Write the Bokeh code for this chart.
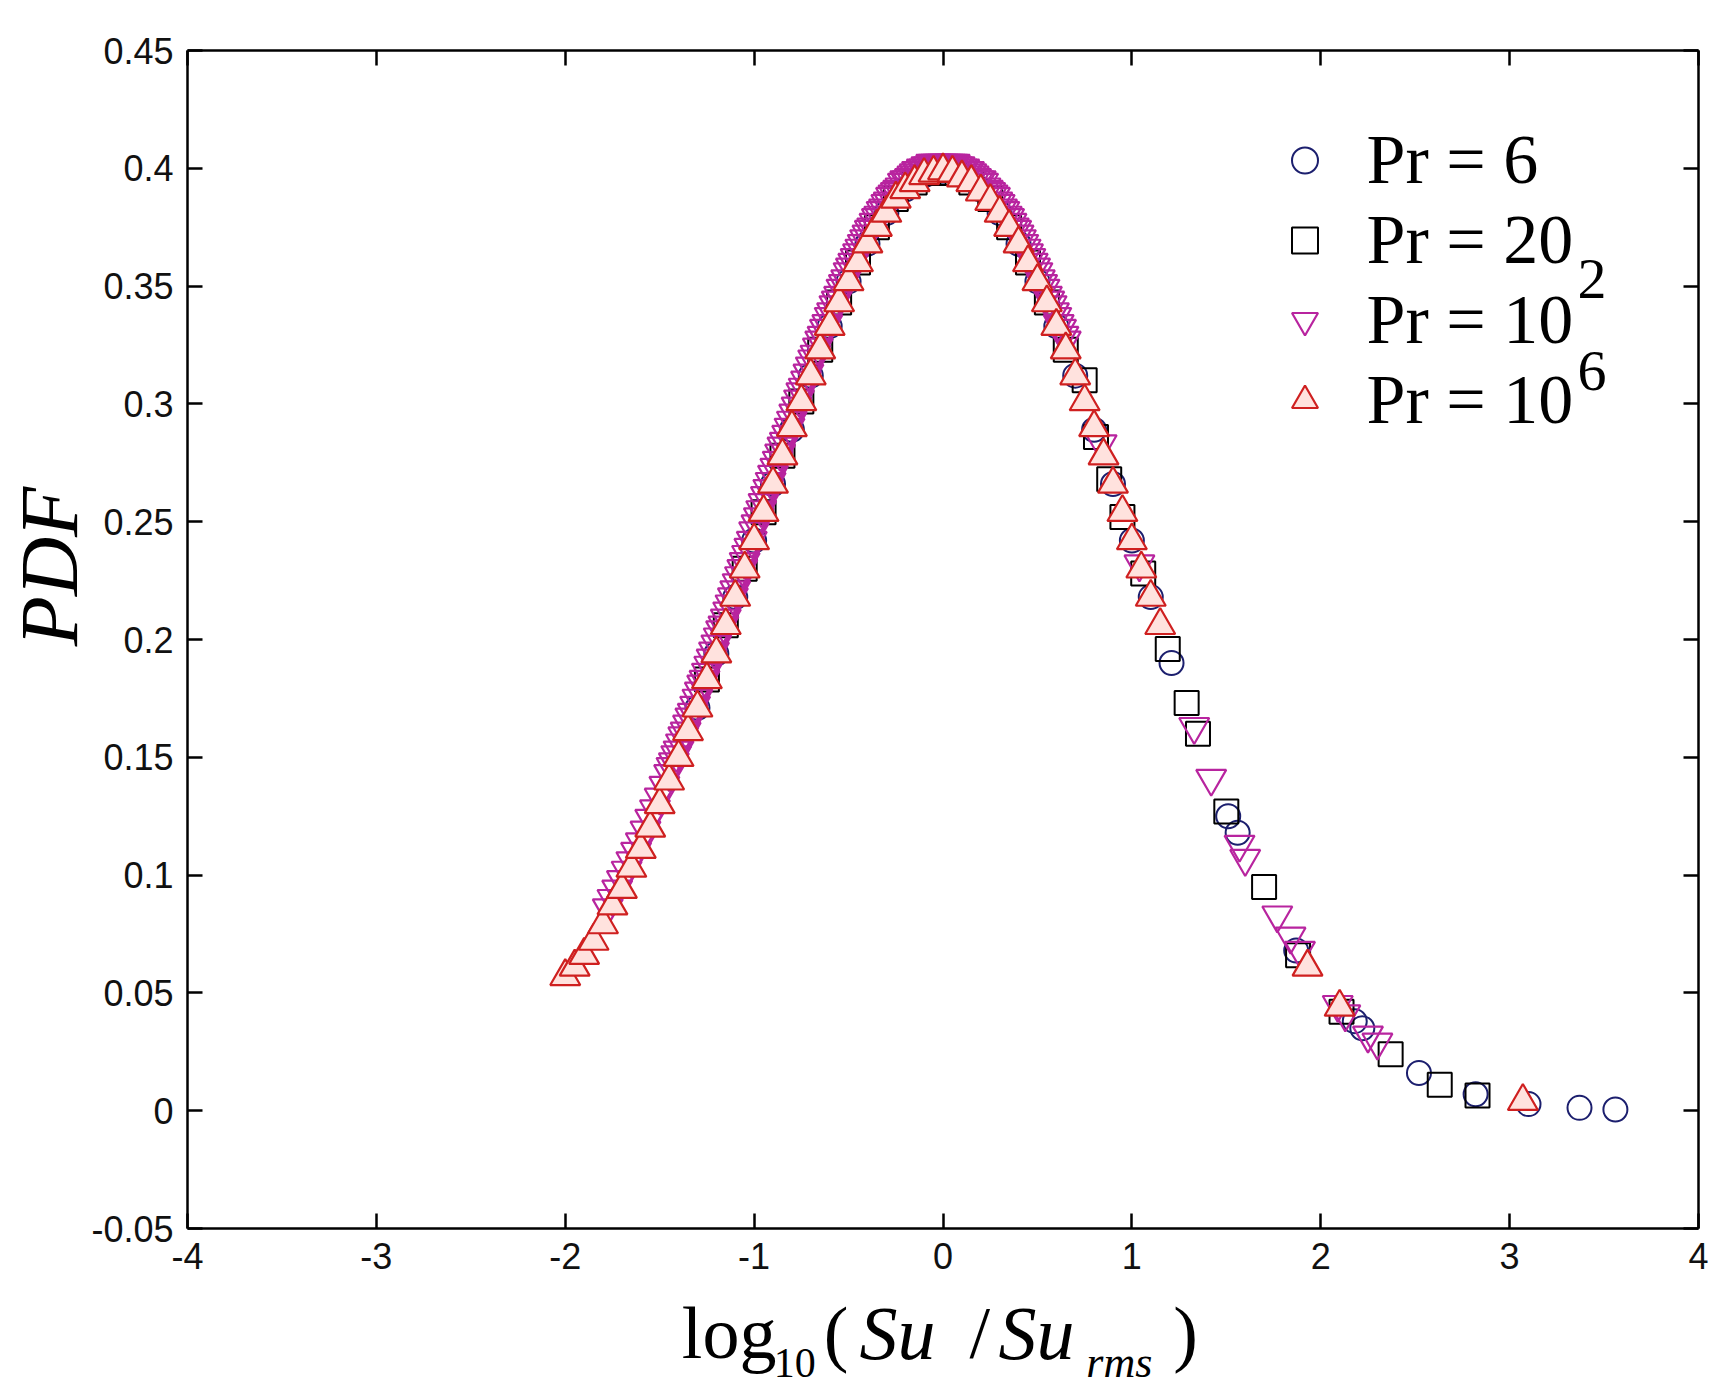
from bokeh.plotting import figure
from bokeh.layouts import row, column
from bokeh.models import (Range1d, FixedTicker, LinearAxis, Label, Legend, LegendItem,
                          CustomJSTickFormatter)
from bokeh.core.properties import value
from bokeh.embed import file_html
from bokeh.resources import INLINE
import math

# ---------------- data ----------------
pr6_x = [-1.3, -1.2, -1.1, -1.0, -0.9, -0.8, -0.7, -0.6, -0.5, -0.4, -0.3, -0.2, -0.1, 0.0,
         0.1, 0.2, 0.3, 0.4, 0.5, 0.6, 0.7, 0.8, 0.9, 1.0, 1.1, 1.21, 1.51, 1.56, 1.87, 2.18,
         2.22, 2.52, 2.82, 3.10, 3.37, 3.56]
pr6_y = [0.171, 0.194, 0.218, 0.242, 0.266, 0.289, 0.312, 0.333, 0.352, 0.368, 0.381, 0.391,
         0.397, 0.399, 0.397, 0.391, 0.381, 0.368, 0.352, 0.333, 0.312, 0.289, 0.266, 0.242,
         0.218, 0.190, 0.125, 0.118, 0.068, 0.038, 0.035, 0.016, 0.007, 0.0028, 0.0012, 0.0005]

pr20_x = [-1.25, -1.15, -1.05, -0.95, -0.85, -0.75, -0.65, -0.55, -0.45, -0.35, -0.25, -0.15,
          -0.05, 0.05, 0.15, 0.25, 0.35, 0.45, 0.55, 0.65, 0.75, 0.81, 0.88, 0.95, 1.06, 1.19,
          1.29, 1.35, 1.50, 1.70, 1.88, 2.11, 2.37, 2.63, 2.83]
pr20_y = [0.183, 0.206, 0.230, 0.254, 0.278, 0.301, 0.323, 0.343, 0.360, 0.375, 0.387, 0.394,
          0.398, 0.398, 0.394, 0.387, 0.375, 0.360, 0.343, 0.323, 0.310, 0.286, 0.268, 0.252,
          0.228, 0.196, 0.173, 0.160, 0.127, 0.095, 0.066, 0.042, 0.024, 0.011, 0.0065]

pr1e2_x = [-1.775, -1.75, -1.725, -1.7, -1.675, -1.65, -1.625, -1.6, -1.575, -1.55, -1.525, -1.5, -1.475,
           -1.45, -1.4375, -1.425, -1.4125, -1.4, -1.3875, -1.375, -1.3625,
           -1.35, -1.3375, -1.325, -1.3125, -1.3, -1.2875, -1.275, -1.2625,
           -1.25, -1.2375, -1.225, -1.2125, -1.2, -1.1875, -1.175, -1.1625,
           -1.15, -1.1375, -1.125, -1.1125, -1.1, -1.0875, -1.075, -1.0625,
           -1.05, -1.0375, -1.025, -1.0125, -1.0, -0.9875, -0.975, -0.9625,
           -0.95, -0.9375, -0.925, -0.9125, -0.9, -0.8875, -0.875, -0.8625,
           -0.85, -0.8375, -0.825, -0.8125, -0.8, -0.7875, -0.775, -0.7625,
           -0.75, -0.7375, -0.725, -0.7125, -0.7, -0.6875, -0.675, -0.6625,
           -0.65, -0.6375, -0.625, -0.6125, -0.6, -0.5875, -0.575, -0.5625,
           -0.55, -0.5375, -0.525, -0.5125, -0.5, -0.4875, -0.475, -0.4625,
           -0.45, -0.4375, -0.425, -0.4125, -0.4, -0.3875, -0.375, -0.3625,
           -0.35, -0.3375, -0.325, -0.3125, -0.3, -0.2875, -0.275, -0.2625,
           -0.25, -0.2375, -0.225, -0.2125, -0.2, -0.1875, -0.175, -0.1625,
           -0.15, -0.1375, -0.125, -0.1125, -0.1, -0.0875, -0.075, -0.0625,
           -0.05, -0.0375, -0.025, -0.0125, 0.0, 0.0125, 0.025, 0.0375,
           0.05, 0.0625, 0.075, 0.0875, 0.1, 0.1125, 0.125, 0.1375,
           0.15, 0.1625, 0.175, 0.1875, 0.2, 0.2125, 0.225, 0.2375,
           0.25, 0.2625, 0.275, 0.2875, 0.3, 0.3125, 0.325, 0.3375,
           0.35, 0.3625, 0.375, 0.3875, 0.4, 0.4125, 0.425, 0.4375,
           0.45, 0.4625, 0.475, 0.4875, 0.5, 0.5125, 0.525, 0.5375,
           0.55, 0.5625, 0.575, 0.5875, 0.6, 0.6125, 0.625, 0.6375,
           0.65,
           0.84, 1.04, 1.33, 1.42, 1.57, 1.60, 1.77, 1.84, 1.89, 2.09, 2.13, 2.25, 2.30]
pr1e2_y = [0.086, 0.090, 0.094, 0.098, 0.102, 0.106, 0.110, 0.114, 0.119, 0.124, 0.128, 0.133, 0.138,
           0.143, 0.146, 0.148, 0.151, 0.153, 0.156, 0.159, 0.161,
           0.164, 0.167, 0.169, 0.172, 0.175, 0.178, 0.181, 0.183,
           0.186, 0.189, 0.192, 0.195, 0.198, 0.201, 0.204, 0.206,
           0.209, 0.212, 0.215, 0.218, 0.221, 0.224, 0.227, 0.230,
           0.233, 0.236, 0.239, 0.242, 0.246, 0.249, 0.252, 0.255,
           0.258, 0.261, 0.264, 0.267, 0.270, 0.273, 0.276, 0.279,
           0.282, 0.284, 0.287, 0.290, 0.293, 0.296, 0.299, 0.302,
           0.305, 0.307, 0.310, 0.313, 0.316, 0.319, 0.321, 0.324,
           0.327, 0.329, 0.332, 0.334, 0.337, 0.339, 0.342, 0.344,
           0.346, 0.349, 0.351, 0.353, 0.356, 0.358, 0.360, 0.362,
           0.364, 0.366, 0.368, 0.370, 0.372, 0.374, 0.375, 0.377,
           0.379, 0.380, 0.382, 0.383, 0.385, 0.386, 0.388, 0.389,
           0.390, 0.391, 0.392, 0.394, 0.395, 0.395, 0.396, 0.397,
           0.398, 0.399, 0.399, 0.400, 0.400, 0.401, 0.401, 0.402,
           0.402, 0.402, 0.402, 0.402, 0.402, 0.402, 0.402, 0.402,
           0.402, 0.402, 0.401, 0.401, 0.400, 0.400, 0.399, 0.399,
           0.398, 0.397, 0.396, 0.395, 0.395, 0.394, 0.392, 0.391,
           0.390, 0.389, 0.388, 0.386, 0.385, 0.383, 0.382, 0.380,
           0.379, 0.377, 0.375, 0.374, 0.372, 0.370, 0.368, 0.366,
           0.364, 0.362, 0.360, 0.358, 0.356, 0.353, 0.351, 0.349,
           0.346, 0.344, 0.342, 0.339, 0.337, 0.334, 0.332, 0.329,
           0.327,
           0.283, 0.232, 0.163, 0.141, 0.113, 0.107, 0.083, 0.074, 0.068, 0.045, 0.041, 0.032, 0.029]

pr1e6_x = [-2.00, -1.95, -1.90, -1.85, -1.80, -1.75, -1.70, -1.65, -1.60, -1.55,
           -1.50, -1.45, -1.40, -1.35, -1.30, -1.25, -1.20, -1.15, -1.10, -1.05,
           -1.00, -0.95, -0.90, -0.85, -0.80, -0.75, -0.70, -0.65, -0.60, -0.55,
           -0.50, -0.45, -0.40, -0.35, -0.30, -0.25, -0.20, -0.15, -0.10, -0.05,
           0.00, 0.05, 0.10, 0.15, 0.20, 0.25, 0.30, 0.35, 0.40, 0.45,
           0.50, 0.55, 0.60, 0.65, 0.70, 0.75, 0.80, 0.85, 0.90, 0.95,
           1.00, 1.05, 1.10, 1.15, 1.93, 2.10, 3.07]
pr1e6_y = [0.057, 0.061, 0.066, 0.072, 0.079, 0.087, 0.094, 0.103, 0.111, 0.120,
           0.130, 0.140, 0.150, 0.161, 0.171, 0.183, 0.194, 0.206, 0.218, 0.230,
           0.242, 0.254, 0.266, 0.278, 0.290, 0.301, 0.312, 0.323, 0.333, 0.343,
           0.352, 0.360, 0.368, 0.375, 0.381, 0.387, 0.391, 0.394, 0.397, 0.398,
           0.399, 0.398, 0.396, 0.394, 0.390, 0.386, 0.381, 0.375, 0.368, 0.360,
           0.352, 0.343, 0.333, 0.323, 0.312, 0.301, 0.290, 0.278, 0.266, 0.254,
           0.242, 0.230, 0.218, 0.206, 0.061, 0.044, 0.004]

x_ticks = [-4, -3, -2, -1, 0, 1, 2, 3, 4]
x_tick_labels = ["-4", "-3", "-2", "-1", "0", "1", "2", "3", "4"]
y_ticks = [-0.05, 0, 0.05, 0.1, 0.15, 0.2, 0.25, 0.3, 0.35, 0.4, 0.45]
y_tick_labels = ["-0.05", "0", "0.05", "0.1", "0.15", "0.2", "0.25", "0.3", "0.35", "0.4", "0.45"]

series_labels = ["Pr = 6", "Pr = 20", "Pr = 10", "Pr = 10"]
series_superscripts = ["", "", "2", "6"]


def pair(xs, ys):
    n = min(len(xs), len(ys))
    return xs[:n], ys[:n]

# ---------------- layout geometry (page pixels) ----------------
LEFT_W = 88            # strip holding the y title
MAIN_W, MAIN_H = 1630, 1284
TOTAL_H = 1390
FL, FR, FB = 185, 1698, 1228   # frame left / right / bottom on the page
MID = 0.34             # text anchor sits this many em above the baseline

# ---------------- main figure ----------------
p = figure(width=MAIN_W, height=MAIN_H, output_backend="svg", toolbar_location=None,
           x_range=Range1d(-4, 4), y_range=Range1d(-0.05, 0.45),
           min_border_left=FL - LEFT_W, min_border_right=LEFT_W + MAIN_W - FR, min_border_top=50,
           min_border_bottom=MAIN_H - FB,
           x_axis_location=None, y_axis_location=None)
p.grid.grid_line_color = None
p.outline_line_color = None
p.background_fill_color = "white"
p.border_fill_color = "white"


def style_axis(ax, standoff):
    ax.axis_line_color = "black"
    ax.axis_line_width = 2.5
    ax.major_tick_in = 15
    ax.major_tick_out = 0
    ax.major_tick_line_width = 2.5
    ax.major_tick_line_color = "black"
    ax.minor_tick_line_color = None
    ax.major_label_text_font = "Liberation Sans"
    ax.major_label_text_font_size = "36px"
    ax.major_label_text_color = "#111111"
    ax.major_label_standoff = standoff


xb = LinearAxis(ticker=FixedTicker(ticks=x_ticks),
                major_label_overrides=dict(zip(x_ticks, x_tick_labels)))
style_axis(xb, 14)
p.add_layout(xb, "below")

yl = LinearAxis(ticker=FixedTicker(ticks=y_ticks),
                major_label_overrides=dict(zip(y_ticks, y_tick_labels)))
style_axis(yl, 14)
p.add_layout(yl, "left")

blank = CustomJSTickFormatter(code="return ''")
xt = LinearAxis(ticker=FixedTicker(ticks=x_ticks), formatter=blank)
style_axis(xt, 0)
p.add_layout(xt, "above")
yr = LinearAxis(ticker=FixedTicker(ticks=y_ticks), formatter=blank)
style_axis(yr, 0)
p.add_layout(yr, "right")

# ---------------- markers ----------------
x6, y6 = pair(pr6_x, pr6_y)
x20, y20 = pair(pr20_x, pr20_y)
x2, y2 = pair(pr1e2_x, pr1e2_y)
x_6, y_6 = pair(pr1e6_x, pr1e6_y)

r6 = p.scatter(x6, y6, marker="circle", size=24, fill_color=None,
               line_color="#1c1f6e", line_width=2)
r20 = p.scatter(x20, y20, marker="square", size=24, fill_color=None,
                line_color="#000000", line_width=2)
r1e2 = p.scatter(x2, y2, marker="inverted_triangle", size=30, fill_color=None,
                 line_color="#b8249f", line_width=2.2)
r1e6 = p.scatter(x_6, y_6, marker="triangle", size=30, fill_color="#ffe2de",
                 line_color="#cf2020", line_width=2.2)
renderers = [r6, r20, r1e2, r1e6]

# ---------------- legend ----------------
ROW = 80
legend = Legend(items=[LegendItem(label=lbl, renderers=[r]) for lbl, r in zip(series_labels, renderers)],
                location=(1302 - 32.5 - FL, FB - (160 - ROW / 2 + 4 * ROW)),
                glyph_width=65, glyph_height=ROW, label_height=ROW, spacing=0,
                padding=0, margin=0, label_standoff=30,
                label_text_font="Liberation Serif", label_text_font_size="70px",
                label_text_color="black",
                border_line_color=None, background_fill_alpha=0)
p.add_layout(legend)

SUP_FS = 58
sup_base = [None, None, 298, 390]
for sup, base in zip(series_superscripts, sup_base):
    if sup:
        p.add_layout(Label(x=1575 - FL, y=FB - (base - MID * SUP_FS), x_units="screen", y_units="screen",
                           text=sup, text_font="Liberation Serif", text_font_size="%dpx" % SUP_FS,
                           text_color="black", text_align="left", text_baseline="alphabetic"))

# ---------------- x title strip (its frame lines up with the main frame) ----------------
XT_H = TOTAL_H - MAIN_H
px = figure(width=MAIN_W, height=XT_H, output_backend="svg", toolbar_location=None,
            x_range=Range1d(FL, FR), y_range=Range1d(0, XT_H),
            min_border=0, min_border_left=FL - LEFT_W, min_border_right=LEFT_W + MAIN_W - FR,
            min_border_top=0, min_border_bottom=0,
            x_axis_location=None, y_axis_location=None)
px.grid.grid_line_color = None
px.outline_line_color = None

# (text, left px on page, baseline px on page, size, style)
xtitle = [("log", 680, 1358, 74, "normal"),
          ("10", 772, 1377, 42, "normal"),
          ("(", 822, 1358, 74, "normal"),
          ("Su", 858, 1358, 76, "italic"),
          ("/", 968, 1358, 74, "normal"),
          ("Su", 997, 1358, 76, "italic"),
          ("rms", 1085, 1377, 44, "italic"),
          (")", 1172, 1358, 74, "normal")]
for t, tx, ty, fs, st in xtitle:
    px.text(x=[tx], y=[TOTAL_H - (ty - MID * fs)], text=[t],
            text_font=value("Liberation Serif"), text_font_size=value("%dpx" % fs),
            text_font_style=value(st), text_color="black",
            text_align="left", text_baseline="alphabetic")

# ---------------- y title strip ----------------
py = figure(width=LEFT_W, height=TOTAL_H, output_backend="svg", toolbar_location=None,
            x_range=Range1d(0, LEFT_W), y_range=Range1d(0, TOTAL_H),
            min_border=0, min_border_left=0, min_border_right=0, min_border_top=0,
            min_border_bottom=0, x_axis_location=None, y_axis_location=None)
py.grid.grid_line_color = None
py.outline_line_color = None
PDF_FS = 82
py.text(x=[77 - MID * PDF_FS], y=[TOTAL_H - 566], text=["PDF"], angle=math.pi / 2,
        text_font=value("Liberation Serif"), text_font_size=value("%dpx" % PDF_FS),
        text_font_style=value("italic"), text_color="black",
        text_align="center", text_baseline="alphabetic")

layout = row(py, column(p, px))
open("out.html", "w").write(file_html(layout, INLINE))
